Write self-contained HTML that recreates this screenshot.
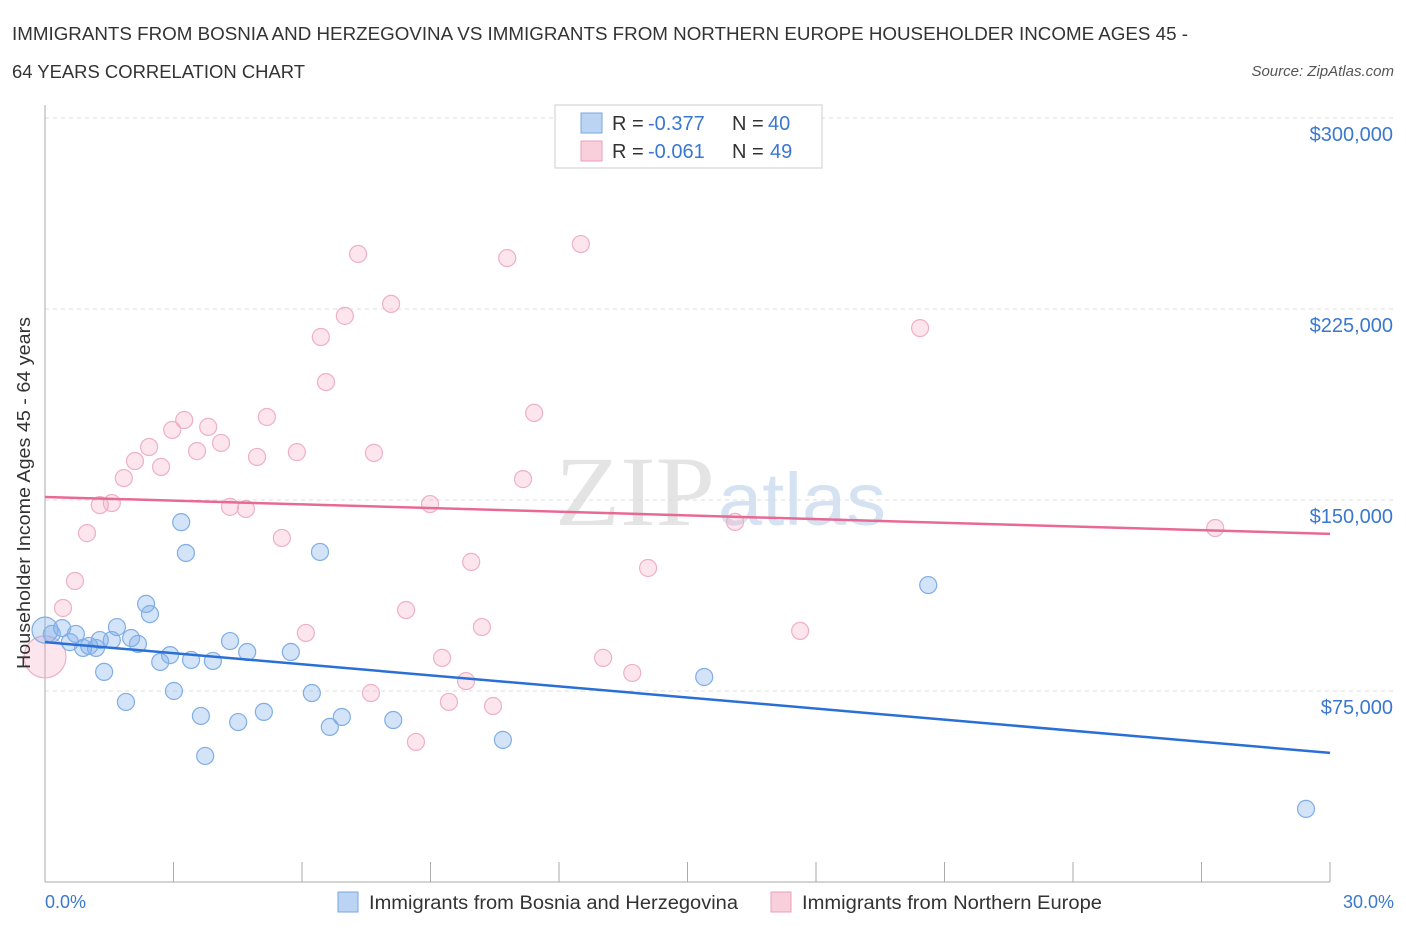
<!DOCTYPE html>
<html><head><meta charset="utf-8"><style>
body{margin:0;background:#fff;font-family:"Liberation Sans",sans-serif;}
</style></head><body>
<svg width="1406" height="930" id="c" style="font-family:'Liberation Sans',sans-serif">
<text x="12" y="40" font-size="18" fill="#333" textLength="1176" lengthAdjust="spacingAndGlyphs">IMMIGRANTS FROM BOSNIA AND HERZEGOVINA VS IMMIGRANTS FROM NORTHERN EUROPE HOUSEHOLDER INCOME AGES 45 -</text>
<text x="12" y="78" font-size="18" fill="#333" textLength="293" lengthAdjust="spacingAndGlyphs">64 YEARS CORRELATION CHART</text>
<text x="1394" y="76" font-size="15" fill="#555" font-style="italic" text-anchor="end">Source: ZipAtlas.com</text>
<text x="555" y="525" font-size="100" fill="#e4e4e4" textLength="160" lengthAdjust="spacingAndGlyphs" font-family="Liberation Serif">ZIP</text>
<text x="718" y="525" font-size="74" fill="#d4e2f2" textLength="168" lengthAdjust="spacingAndGlyphs">atlas</text>
<g id="grid"></g><g id="axes"></g><g id="pts"></g><g id="trend"></g>
<text x="30" y="493" font-size="18" fill="#333" text-anchor="middle" transform="rotate(-90 30 493)" textLength="352" lengthAdjust="spacingAndGlyphs">Householder Income Ages 45 - 64 years</text>
<text x="45" y="908" font-size="18" fill="#3a78d0">0.0%</text>
<text x="1394" y="908" font-size="18" fill="#3a78d0" text-anchor="end">30.0%</text>
<g>
<rect x="555" y="105" width="267" height="63" fill="#fff" stroke="#ccc"/>
<rect x="581" y="113" width="21" height="20" fill="#bcd4f4" stroke="#7aa6e0"/>
<rect x="581" y="141" width="21" height="20" fill="#f9cfdc" stroke="#eaa0b8"/>
<text x="612" y="130" font-size="20" fill="#333">R =</text><text x="648" y="130" font-size="20" fill="#3a78d0">-0.377</text>
<text x="732" y="130" font-size="20" fill="#333">N =</text><text x="768" y="130" font-size="20" fill="#3a78d0">40</text>
<text x="612" y="158" font-size="20" fill="#333">R =</text><text x="648" y="158" font-size="20" fill="#3a78d0">-0.061</text>
<text x="732" y="158" font-size="20" fill="#333">N =</text><text x="770" y="158" font-size="20" fill="#3a78d0">49</text>
</g>
<g>
<rect x="338" y="892" width="20" height="20" fill="#bcd4f4" stroke="#7aa6e0"/>
<text x="369" y="909" font-size="19" fill="#333" textLength="369" lengthAdjust="spacingAndGlyphs">Immigrants from Bosnia and Herzegovina</text>
<rect x="771" y="892" width="20" height="20" fill="#f9cfdc" stroke="#eaa0b8"/>
<text x="802" y="909" font-size="19" fill="#333" textLength="300" lengthAdjust="spacingAndGlyphs">Immigrants from Northern Europe</text>
</g>
</svg>
<script>
const yTicks=[75,150,225,300];
const yTickLabels=["$75,000","$150,000","$225,000","$300,000"];
const blueX=[0,0.16,0.40,0.58,0.72,0.89,1.03,1.19,1.28,1.38,1.56,1.68,1.89,2.01,2.17,2.36,2.45,2.69,2.92,3.01,3.18,3.29,3.41,3.64,3.74,3.92,4.32,4.51,4.72,5.11,5.74,6.23,6.42,6.65,6.93,8.13,10.69,15.39,20.62,29.44];
const blueY=[98.9,97.4,99.7,94.2,97.4,91.9,92.7,91.9,95.0,82.5,95.0,100.1,70.7,95.8,93.5,109.2,105.2,86.4,89.1,75.0,141.3,129.2,87.2,65.2,49.5,86.8,94.6,62.8,90.3,66.8,90.3,74.2,129.6,60.9,64.8,63.6,55.8,80.5,116.6,28.7];
const pinkX=[0,0.42,0.70,0.98,1.28,1.56,1.84,2.10,2.43,2.71,2.97,3.25,3.55,3.81,4.11,4.32,4.69,4.95,5.18,5.53,5.88,6.09,6.44,6.56,7.00,7.31,7.61,7.68,8.08,8.43,8.66,8.99,9.27,9.43,9.83,9.95,10.20,10.46,10.79,11.16,11.42,12.51,13.03,13.71,14.08,16.11,17.63,20.43,27.32];
const pinkY=[88.4,107.6,118.2,137.0,148.0,148.8,158.6,165.3,170.8,163.0,177.5,181.4,169.2,178.7,172.4,147.3,146.5,166.9,182.6,135.1,168.8,97.8,214.0,196.3,222.3,246.6,74.2,168.5,227.0,106.8,55.0,148.4,88.0,70.7,78.9,125.7,100.1,69.1,245.0,158.2,184.2,250.5,88.0,82.1,123.3,141.4,98.6,217.5,139.0];
const blueTrend=[94.2,50.7];
const pinkTrend=[151.2,136.7];
const X=p=>45+p*(1285/30), Y=v=>882-v*191/75;
const NS="http://www.w3.org/2000/svg";
function mk(parent,tag,attrs){const e=document.createElementNS(NS,tag);for(const k in attrs)e.setAttribute(k,attrs[k]);document.getElementById(parent).appendChild(e);return e;}
yTicks.forEach((t,i)=>{
 let l=mk('grid','line',{x1:45,x2:1394,y1:Y(t),y2:Y(t),stroke:'#ddd','stroke-dasharray':'4,4'});
 
 
 let tx=mk('grid','text',{x:1393,y:Y(t)+23,'font-size':20,fill:'#3a78d0','text-anchor':'end'});
 tx.textContent=yTickLabels[i];
 
 
});
let g0=mk('grid','line',{x1:45,x2:1394,y1:118,y2:118,stroke:'#ddd','stroke-dasharray':'4,4'});


let ya=mk('axes','line',{x1:45,x2:45,y1:105,y2:882,stroke:'#aaa'});


let xa=mk('axes','line',{x1:45,x2:1330,y1:882,y2:882,stroke:'#aaa'});


for(let p=0;p<=30;p+=3){let t=mk('axes','line',{x1:X(p),x2:X(p),y1:862,y2:882,stroke:'#aaa'});
 
 }
function pts(xs,ys,fill,stroke,name,bigR){xs.forEach((x,i)=>{
 let c=mk('pts','circle',{cx:X(x),cy:Y(ys[i]),r:i==0?bigR:8.5,fill:fill,stroke:stroke,'stroke-width':1.2});
 
 });}
pts(pinkX,pinkY,'rgba(245,170,195,0.3)','#eeb0c4','pink-point',21);
pts(blueX,blueY,'rgba(130,175,235,0.35)','#80aee4','blue-point',13);
let bt=mk('trend','line',{x1:X(0),x2:X(30),y1:Y(blueTrend[0]),y2:Y(blueTrend[1]),stroke:'#2a6fd6','stroke-width':2.5});


let pt=mk('trend','line',{x1:X(0),x2:X(30),y1:Y(pinkTrend[0]),y2:Y(pinkTrend[1]),stroke:'#e86a94','stroke-width':2.5});


</script>
</body></html>
